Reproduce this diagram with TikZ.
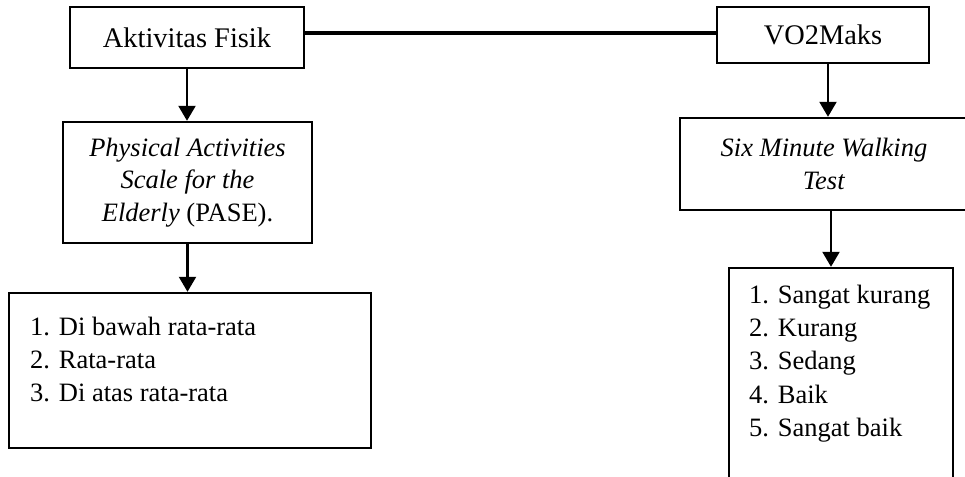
\documentclass[tikz,border=0pt]{standalone}
\usepackage{fontspec}
\setmainfont{Liberation Serif}
\usetikzlibrary{arrows.meta}

\begin{document}
\begin{tikzpicture}[x=0.5pt, y=-0.5pt,
    kotak/.style={draw, line width=1.2pt, inner sep=0pt, align=center,
      font=\fontsize{13.25}{16.3}\selectfont},
    judul/.style={kotak, font=\fontsize{14.2}{17}\selectfont},
    daftar/.style={anchor=north west, inner sep=0pt, align=left,
      font=\fontsize{13.25}{16.4}\selectfont},
    panah/.style={line width=1.1pt, -{Triangle[width=8.5pt,length=7.5pt]}}]
  \useasboundingbox (0,0) rectangle (965,477); % ukuran gambar

  % baris atas
  \node[judul, minimum width=117pt, minimum height=30.5pt] (fisik) at (187,37.5) {Aktivitas Fisik};
  \node[judul, minimum width=106pt, minimum height=28pt] (vo2) at (823,35) {VO2Maks};
  \coordinate (garis) at ([yshift=1pt]vo2.west);
  \draw[line width=1.7pt] (fisik.east |- garis) -- (garis);

  % kiri
  \node[kotak, minimum width=124.5pt, minimum height=60.5pt] (pase) at (187.5,182.5)
    {\textit{Physical Activities}\\ \textit{Scale for the}\\ \textit{Elderly} (PASE).};
  \node[kotak, minimum width=181pt, minimum height=77.5pt] (kiri) at (190,370.5) {};
  \node[daftar] (kiritxt) at ([xshift=11pt, yshift=-12.5pt]kiri.north west)
    {1. Di bawah rata-rata\\ 2. Rata-rata\\ 3. Di atas rata-rata};
  \draw[panah] (fisik.south) -- (fisik.south |- pase.north);
  \draw[panah] (pase.south) -- (pase.south |- kiri.north);

  % kanan
  \node[kotak, minimum width=144pt, minimum height=46pt] (smwt) at (824,164)
    {\textit{Six Minute Walking}\\ \textit{Test}};
  \node[kotak, minimum width=112pt, minimum height=111pt] (kanan) at (841,379) {};
  \node[daftar, font=\fontsize{13.25}{16.6}\selectfont] (kanantxt) at ([xshift=10.5pt, yshift=-9pt]kanan.north west)
    {1. Sangat kurang\\ 2. Kurang\\ 3. Sedang\\ 4. Baik\\ 5. Sangat baik};
  \draw[panah] ([xshift=2.5pt]vo2.south) -- ([xshift=2.5pt]vo2.south |- smwt.north);
  \draw[panah] ([xshift=3.5pt]smwt.south) -- ([xshift=3.5pt]smwt.south |- kanan.north);
\end{tikzpicture}
\end{document}
